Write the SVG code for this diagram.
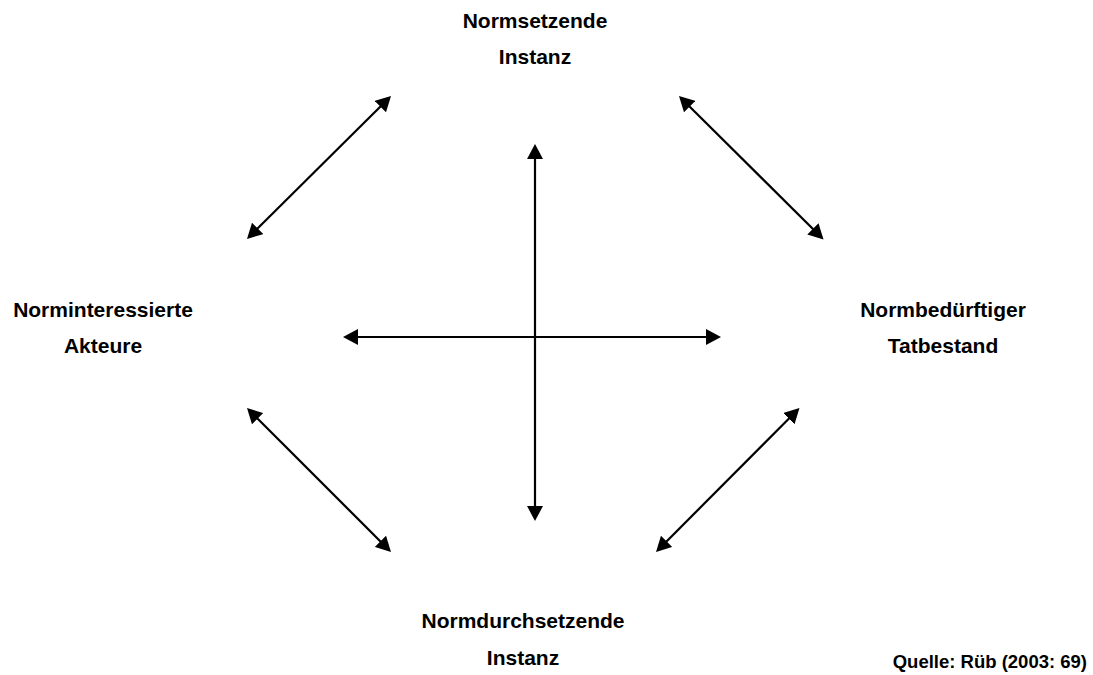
<svg xmlns="http://www.w3.org/2000/svg" width="1093" height="675" viewBox="0 0 1093 675">
  <style>
    .lbl { font-family: "Liberation Sans", Arial, sans-serif; font-weight: bold; font-size: 21px; fill: #000; text-anchor: middle; }
    .src { font-family: "Liberation Sans", Arial, sans-serif; font-weight: bold; font-size: 18.5px; fill: #000; text-anchor: end; }
    .con { stroke: #000; stroke-width: 2.2; fill: none; marker-start: url(#head); marker-end: url(#head); }
  </style>
  <defs>
    <!-- filled triangular arrowhead; tip sits 12px beyond the line end -->
    <marker id="head" markerUnits="userSpaceOnUse" markerWidth="16" markerHeight="16" viewBox="0 0 16 16" refX="3" refY="8" orient="auto-start-reverse">
      <path d="M0,0 L15,8 L0,16 z" fill="#000"/>
    </marker>
  </defs>
  <rect width="1093" height="675" fill="#fff"/>

  <g id="connectors">
    <path class="con" d="M535,156 L535,509"/>
    <path class="con" d="M355,337 L709,337"/>
    <path class="con" d="M382.5,104.5 L255.5,230.5"/>
    <path class="con" d="M687.5,104.5 L815,231"/>
    <path class="con" d="M255.5,416.5 L382.5,543.5"/>
    <path class="con" d="M791,416.5 L664.5,543.5"/>
  </g>

  <g id="node-normsetzende">
    <text class="lbl" x="535" y="28">Normsetzende</text>
    <text class="lbl" x="535" y="64">Instanz</text>
  </g>
  <g id="node-norminteressierte">
    <text class="lbl" x="103" y="317">Norminteressierte</text>
    <text class="lbl" x="103" y="353">Akteure</text>
  </g>
  <g id="node-normbeduerftiger">
    <text class="lbl" x="943" y="317">Normbedürftiger</text>
    <text class="lbl" x="943" y="353">Tatbestand</text>
  </g>
  <g id="node-normdurchsetzende">
    <text class="lbl" x="523" y="628">Normdurchsetzende</text>
    <text class="lbl" x="523" y="665">Instanz</text>
  </g>
  <g id="source">
    <text class="src" x="1087" y="668">Quelle: Rüb (2003: 69)</text>
  </g>
</svg>
